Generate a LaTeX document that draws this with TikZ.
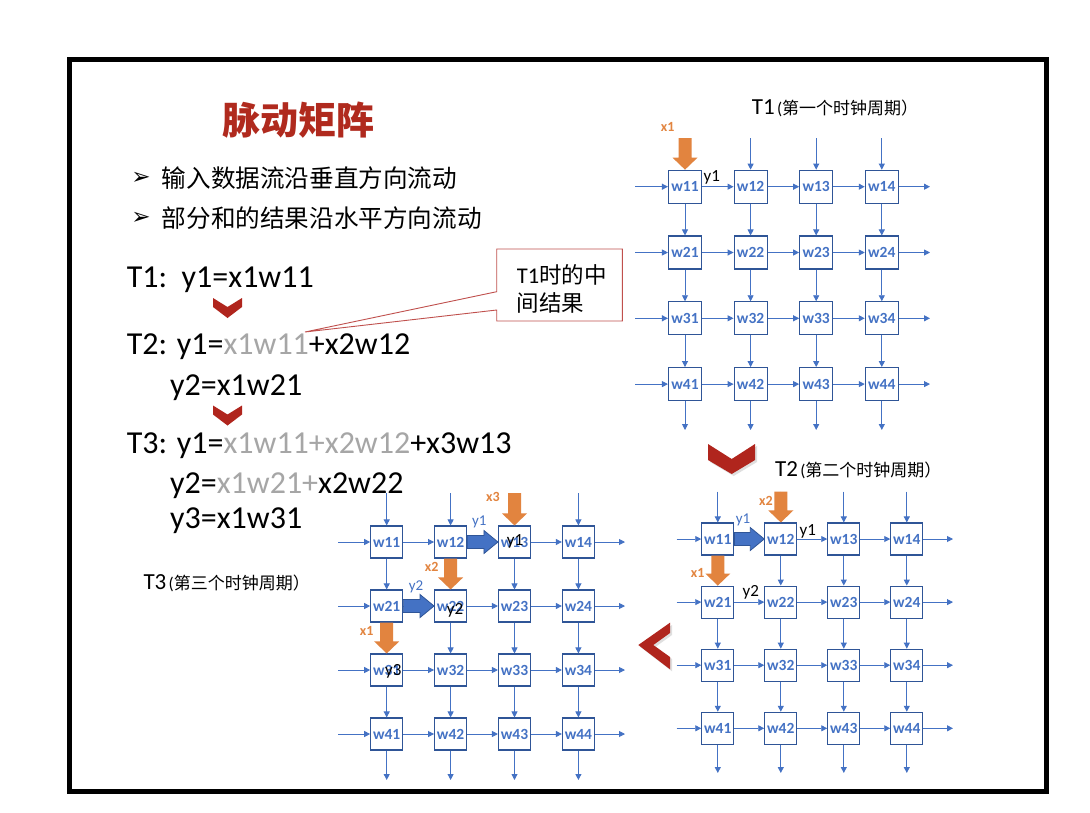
\documentclass[tikz,border=0pt]{standalone}
\usepackage{fontspec}
\setmainfont{Carlito}
\newfontfamily\cjk{Noto Sans CJK SC}
\newfontfamily\dejavu{DejaVu Sans}
\usetikzlibrary{calc,arrows.meta}
\definecolor{flowblue}{HTML}{4472C4}
\definecolor{boxblue}{HTML}{2F5597}
\definecolor{xorange}{HTML}{E2843F}
\definecolor{chevred}{HTML}{B0251D}
\definecolor{eqgray}{HTML}{A6A6A6}
\definecolor{calred}{HTML}{C0504D}
\definecolor{titlered}{HTML}{B02A1E}
\def\bsz{33pt}
\tikzset{
  pe/.style={draw=boxblue, line width=1.1pt, fill=white, minimum size=\bsz, inner sep=0pt,
    font=\fontsize{15.5}{16}\selectfont\bfseries, text=flowblue},
  flow/.style={draw=flowblue, line width=0.9pt, -{Triangle[length=6pt,width=6pt]}},
  eq/.style={anchor=base west, inner sep=0pt, font=\fontsize{32}{34}\selectfont},
  xlab/.style={inner sep=0pt, font=\fontsize{14}{15}\selectfont\bfseries, text=xorange},
  ylab/.style={inner sep=0pt, font=\fontsize{15}{16}\selectfont, text=flowblue},
  yblack/.style={inner sep=0pt, font=\fontsize{17}{18}\selectfont, text=black},
  chev/.style={fill=chevred},
  chevshadow/.style={fill=black!35, opacity=0.35}
}
\newcommand\sysgrid[9]{%
  \foreach \i in {1,...,4}{\foreach \j in {1,...,4}{%
    \node[pe] (#1\i\j) at ({#2+(\j-1)*#4},{#3+(\i-1)*#5}) {w\i\j};}}
  \foreach \j in {1,...,4}{%
    \coordinate (#1t\j) at ({#2+(\j-1)*#4},#6);
    \coordinate (#1b\j) at ({#2+(\j-1)*#4},#9);}
  \foreach \i in {1,...,4}{%
    \coordinate (#1l\i) at (#7,{#3+(\i-1)*#5});
    \coordinate (#1r\i) at (#8,{#3+(\i-1)*#5});}
  \foreach \j in {1,...,4}{%
    \draw[flow] (#1t\j) -- (#11\j.north);
    \draw[flow] (#14\j.south) -- (#1b\j);
    \foreach \i/\k in {1/2,2/3,3/4}{\draw[flow] (#1\i\j.south) -- (#1\k\j.north);}}
  \foreach \i in {1,...,4}{%
    \draw[flow] (#1l\i) -- (#1\i1.west);
    \draw[flow] (#1\i4.east) -- (#1r\i);
    \foreach \j/\k in {1/2,2/3,3/4}{\draw[flow] (#1\i\j.east) -- (#1\i\k.west);}}
}
\newcommand\downblock[2]{%
  \fill[xorange] let \p1=(#1), \p2=(#2) in
    (\x1-6.5pt,\y1) -- (\x1+6.5pt,\y1) -- (\x1+6.5pt,\y2+12pt) -- (\x1+12.5pt,\y2+12pt)
    -- (\x1,\y2) -- (\x1-12.5pt,\y2+12pt) -- (\x1-6.5pt,\y2+12pt) -- cycle;}
\newcommand\rightblock[2]{%
  \filldraw[fill=flowblue, draw=boxblue, line width=0.8pt] let \p1=(#1), \p2=(#2) in
    (\x1,\y1+6.5pt) -- (\x2-14pt,\y1+6.5pt) -- (\x2-14pt,\y1+11.5pt) -- (\x2,\y1)
    -- (\x2-14pt,\y1-11.5pt) -- (\x2-14pt,\y1-6.5pt) -- (\x1,\y1-6.5pt) -- cycle;}
\begin{document}
\begin{tikzpicture}[x=1pt,y=-1pt]
\useasboundingbox (0,0) rectangle (1090,812);
\fill[white] (0,0) rectangle (1090,812);
% frame
\draw[line width=5pt] (69.5,59.5) rectangle (1046.5,791.5);

% title and bullets
\node[inner sep=0pt, font=\fontsize{38}{40}\selectfont\cjk\bfseries, text=titlered] (title) at (298,120) {脉动矩阵};
\node[inner sep=0pt, font=\fontsize{23}{24}\selectfont\dejavu] (bul1) at (141,178.3) {➢};
\node[inner sep=0pt, font=\fontsize{23}{24}\selectfont\dejavu] (bul2) at (141,218.3) {➢};
\node[anchor=west, inner sep=0pt, font=\fontsize{24.6}{26}\selectfont\cjk] (txt1) at (161.7,178.3) {输入数据流沿垂直方向流动};
\node[anchor=west, inner sep=0pt, font=\fontsize{24.6}{26}\selectfont\cjk] (txt2) at (161.7,218.3) {部分和的结果沿水平方向流动};

% equations
\node[eq] (e1) at (126.7,287) {T1:\ \ y1=x1w11};
\node[eq] (e2) at (126.7,354) {T2: y1={\color{eqgray}x1w11}+x2w12};
\node[eq] (e3) at (170,395) {y2=x1w21};
\node[eq] (e4) at (126.7,453) {T3: y1={\color{eqgray}x1w11+x2w12}+x3w13};
\node[eq] (e5) at (170,493) {y2={\color{eqgray}x1w21+}x2w22};
\node[eq] (e6) at (170,528) {y3=x1w31};

% small chevrons
\fill[chev] (213,298) -- (227.5,307) -- (242,298) -- (242,307) -- (227.5,318) -- (213,307) -- cycle;
\fill[chev] (213,405.5) -- (227.5,414.5) -- (242,405.5) -- (242,414.5) -- (227.5,425.5) -- (213,414.5) -- cycle;

% callout
\coordinate (ctip) at (305,332);
\draw[calred, fill=white, line width=0.9pt] (496.7,249) -- (622.3,249) -- (622.3,321) -- (496.7,321)
  -- (496.7,310) -- (ctip) -- (496.7,291.7) -- cycle;
\node[anchor=west, align=left, inner sep=0pt, font=\fontsize{22.5}{28.5}\selectfont] (callout) at (516.7,289)
  {T1{\cjk 时的中}\\{\cjk 间结果}};

% grid titles
\node[anchor=west, inner sep=0pt] (tt1) at (751.7,108) {{\fontsize{23}{25}\selectfont T1} {\fontsize{17}{19}\selectfont(\cjk 第一个时钟周期）}};
\node[anchor=west, inner sep=0pt] (tt2) at (775,470) {{\fontsize{23}{25}\selectfont T2} {\fontsize{17}{19}\selectfont(\cjk 第二个时钟周期）}};
\node[anchor=west, inner sep=0pt] (tt3) at (143.3,583) {{\fontsize{23}{25}\selectfont T3} {\fontsize{17}{19}\selectfont(\cjk 第三个时钟周期）}};

% grids
\def\bsz{33pt}
\sysgrid{a}{685}{186.7}{65.6}{65.8}{138}{635}{930}{430}
\def\bsz{32pt}
\sysgrid{b}{717.8}{539}{63}{63.1}{491.7}{676.7}{953}{773}
\sysgrid{c}{386.7}{542}{63.9}{64}{493}{338}{625}{780}

% T1 overlays
\downblock{at1}{a11.north}
\node[xlab] (ax1) at (667.7,126.7) {x1};
\node[yblack] (ay1) at (711.7,177) {y1};

% T2 overlays
\downblock{bt2}{b12.north}
\downblock{b11.south}{b21.north}
\rightblock{b11.east}{b12.west}
\node[xlab] (bx2) at (766,501) {x2};
\node[xlab] (bx1) at (697.7,572.7) {x1};
\node[ylab] (by1b) at (743,520) {y1};
\node[yblack] (by1) at (807.7,531.7) {y1};
\node[yblack] (by2) at (750.7,592.7) {y2};

% T3 overlays
\downblock{ct3}{c13.north}
\downblock{c12.south}{c22.north}
\downblock{c21.south}{c31.north}
\rightblock{c12.east}{c13.west}
\rightblock{c21.east}{c22.west}
\node[xlab] (cx3) at (493,497) {x3};
\node[xlab] (cx2) at (431.7,567.3) {x2};
\node[xlab] (cx1) at (366.7,630.7) {x1};
\node[ylab] (cy1b) at (479.3,522.3) {y1};
\node[ylab] (cy2b) at (416,587.3) {y2};
\node[yblack] (cy1) at (515,541.7) {y1};
\node[yblack] (cy2) at (455,610) {y2};
\node[yblack] (cy3) at (393.3,671.7) {y3};

% big chevrons
\fill[chevshadow] (710,446) -- (733.7,461) -- (757,446) -- (757,462) -- (733.7,476) -- (710,462) -- cycle;
\fill[chev] (708,444) -- (731.7,459) -- (755,444) -- (755,460) -- (731.7,474) -- (708,460) -- cycle;
\fill[chevshadow] (672,625) -- (640.3,647) -- (672,671.3) -- (672,659) -- (655.3,647) -- (672,635) -- cycle;
\fill[chev] (670,622.7) -- (638.3,645) -- (670,669.3) -- (670,657) -- (653.3,645) -- (670,633) -- cycle;
\end{tikzpicture}
\end{document}
